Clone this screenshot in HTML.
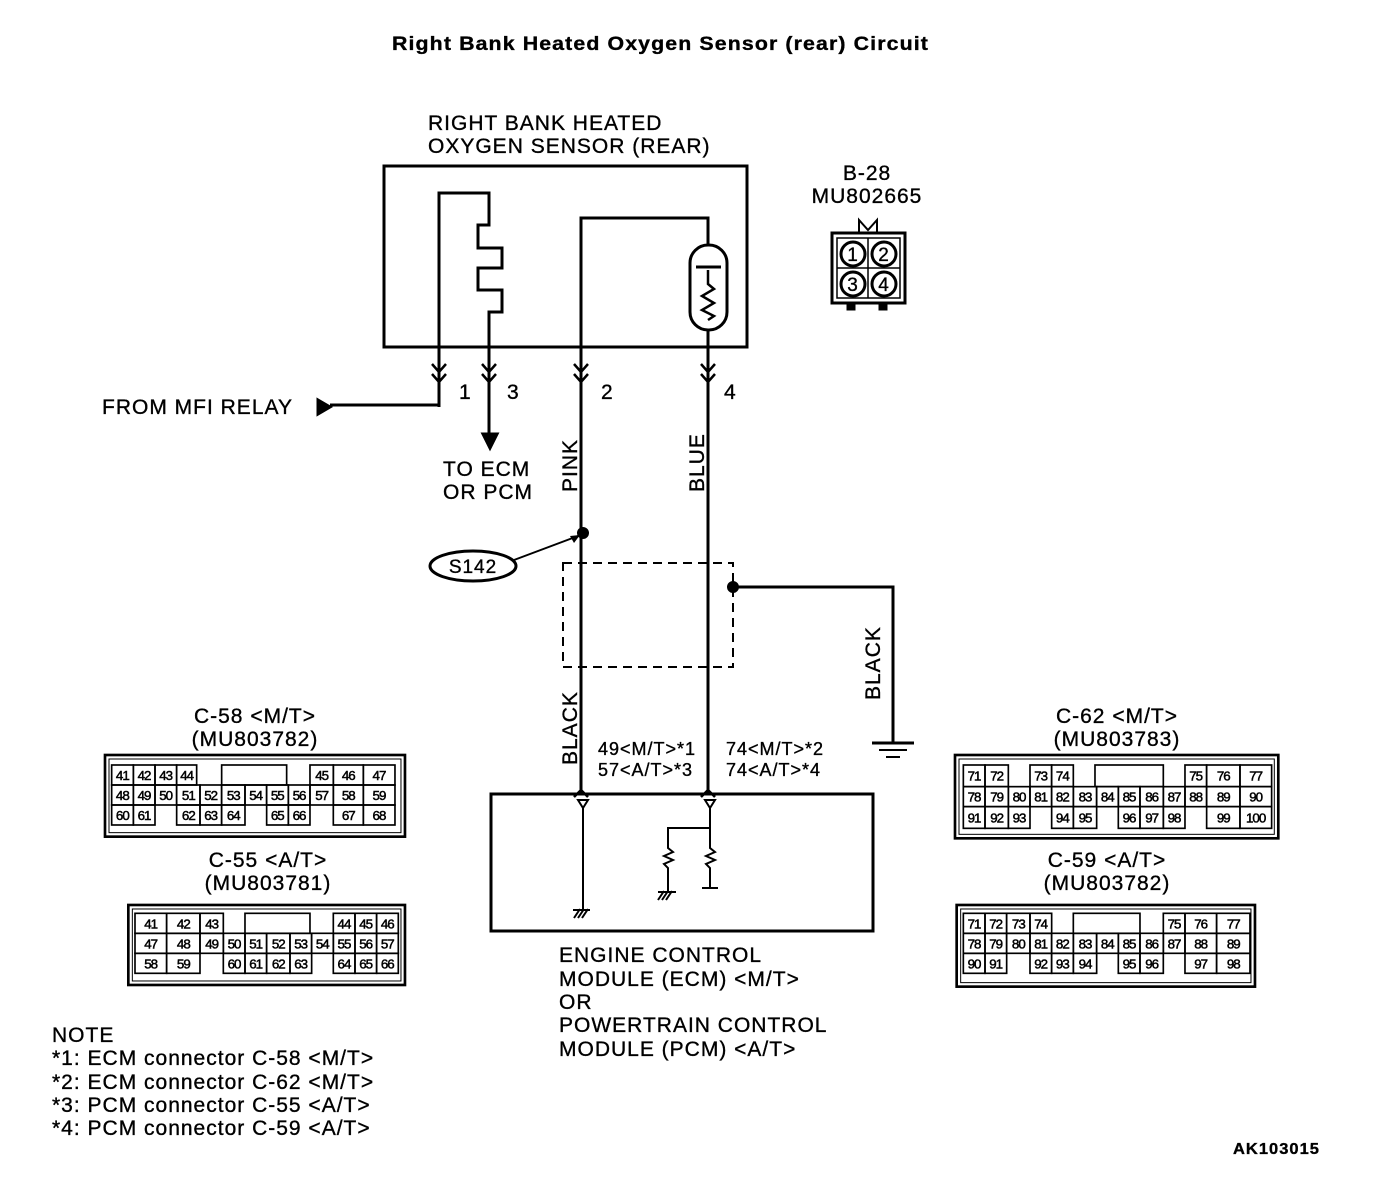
<!DOCTYPE html>
<html><head><meta charset="utf-8"><style>
html,body{margin:0;padding:0;background:#fff}
svg{display:block}
text{font-family:"Liberation Sans",Arial,sans-serif;fill:#000;letter-spacing:1px;stroke:#000;stroke-width:0.35}
.l{font-size:21px}
.c text{font-size:40px;text-anchor:middle;letter-spacing:-3px;stroke-width:1.5}
.c rect{fill:none;stroke:#000;stroke-width:5}
</style></head><body>
<svg width="1376" height="1194" viewBox="0 0 1376 1194" xmlns="http://www.w3.org/2000/svg">
<g fill="none" stroke="#000" stroke-width="3">
<text x="392" y="50" font-size="19" font-weight="bold" textLength="537" lengthAdjust="spacingAndGlyphs" stroke="none">Right Bank Heated Oxygen Sensor (rear) Circuit</text>
<text x="428" y="130" class="l" stroke="none">RIGHT BANK HEATED</text>
<text x="428" y="153" class="l" stroke="none">OXYGEN SENSOR (REAR)</text>
<rect x="384" y="166" width="363" height="181"/>
<polyline points="439,407 439,193 489,193 489,225 478,225 478,248 502,248 502,268 478,268 478,290 502,290 502,312 489,312 489,440"/>
<polyline points="439,405 330,405"/>
<polygon points="318,400 330,407 318,414" fill="#000"/>
<polygon points="483,434 497,434 490,448" fill="#000"/>
<polyline points="708,245 708,218 581,218 581,795"/>
<line x1="708" y1="330" x2="708" y2="795"/>
<rect x="690" y="245" width="37" height="85" rx="18"/>
<line x1="696" y1="267" x2="721" y2="267"/>
<polyline points="708,270 708,284 714,289 702,296 714,303 702,310 714,316 708,320" stroke-width="2.5"/>
<g stroke-width="2.5">
<polyline points="432,364 439,372 446,364"/><polyline points="432,374 439,382 446,374"/>
<polyline points="482,364 489,372 496,364"/><polyline points="482,374 489,382 496,374"/>
<polyline points="574,364 581,372 588,364"/><polyline points="574,374 581,382 588,374"/>
<polyline points="701,364 708,372 715,364"/><polyline points="701,374 708,382 715,374"/>
<polyline points="574,797 581,790 588,797"/><polyline points="701,797 708,790 715,797"/>
</g>
<text x="459" y="399" class="l" font-size="18" stroke="none">1</text>
<text x="507" y="399" class="l" font-size="18" stroke="none">3</text>
<text x="601" y="399" class="l" font-size="18" stroke="none">2</text>
<text x="724" y="399" class="l" font-size="18" stroke="none">4</text>
<text x="102" y="414" class="l" stroke="none">FROM MFI RELAY</text>
<text x="443" y="476" class="l" stroke="none">TO ECM</text>
<text x="443" y="499" class="l" stroke="none">OR PCM</text>
<text transform="translate(577,492) rotate(-90)" class="l" stroke="none">PINK</text>
<text transform="translate(704,492) rotate(-90)" class="l" stroke="none">BLUE</text>
<text transform="translate(577,765) rotate(-90)" class="l" stroke="none">BLACK</text>
<text transform="translate(880,700) rotate(-90)" class="l" stroke="none">BLACK</text>
<circle cx="583" cy="533" r="4.5" fill="#000"/>
<line x1="514" y1="560" x2="578" y2="536" stroke-width="2"/>
<polygon points="580,535 570,536 574,543" fill="#000" stroke="none"/>
<ellipse cx="473" cy="566" rx="43" ry="15"/>
<text x="473" y="573" text-anchor="middle" font-size="19" stroke="none">S142</text>
<rect x="563" y="563" width="170" height="104" stroke-dasharray="9,6" stroke-width="2"/>
<circle cx="733" cy="587" r="4.5" fill="#000"/>
<polyline points="733,587 893,587 893,742"/>
<line x1="872" y1="743" x2="914" y2="743"/><line x1="879" y1="750" x2="907" y2="750" stroke-width="2"/><line x1="886" y1="757" x2="900" y2="757" stroke-width="2"/>
<text x="598" y="755" font-size="18" stroke="none">49&lt;M/T&gt;*1</text>
<text x="598" y="776" font-size="18" stroke="none">57&lt;A/T&gt;*3</text>
<text x="726" y="755" font-size="18" stroke="none">74&lt;M/T&gt;*2</text>
<text x="726" y="776" font-size="18" stroke="none">74&lt;A/T&gt;*4</text>
<rect x="491" y="794" width="382" height="137"/>
<polygon points="578,800 588,800 583,808" stroke-width="2"/>
<polygon points="705,800 715,800 710,808" stroke-width="2"/>
<line x1="583" y1="808" x2="583" y2="910" stroke-width="2"/>
<g stroke-width="2"><line x1="574" y1="918" x2="580" y2="909"/><line x1="578" y1="918" x2="584" y2="909"/><line x1="582" y1="918" x2="588" y2="909"/><line x1="573" y1="910" x2="590" y2="910"/></g>
<polyline points="710,808 710,828 668,828 668,848 673,852 664,856 673,860 664,864 668,868 668,892" stroke-width="2"/>
<polyline points="710,828 710,848 715,852 706,856 715,860 706,864 710,868 710,888" stroke-width="2"/>
<line x1="702" y1="888" x2="718" y2="888" stroke-width="2"/>
<g stroke-width="2"><line x1="658" y1="900" x2="664" y2="891"/><line x1="662" y1="900" x2="668" y2="891"/><line x1="666" y1="900" x2="672" y2="891"/><line x1="658" y1="892" x2="676" y2="892"/></g>
<text x="559" y="962" class="l" stroke="none">ENGINE CONTROL</text>
<text x="559" y="986" class="l" stroke="none">MODULE (ECM) &lt;M/T&gt;</text>
<text x="559" y="1009" class="l" stroke="none">OR</text>
<text x="559" y="1032" class="l" stroke="none">POWERTRAIN CONTROL</text>
<text x="559" y="1056" class="l" stroke="none">MODULE (PCM) &lt;A/T&gt;</text>
<text x="867" y="180" class="l" text-anchor="middle" stroke="none">B-28</text>
<text x="867" y="203" class="l" text-anchor="middle" stroke="none">MU802665</text>
<polyline points="859,232 859,220 868,230 877,220 877,232" stroke-width="2"/>
<rect x="832" y="233" width="73" height="70" stroke-width="3"/>
<rect x="837" y="238" width="63" height="60" stroke-width="1.5"/>
<line x1="868" y1="238" x2="868" y2="298" stroke-width="1.5"/><line x1="837" y1="268" x2="900" y2="268" stroke-width="1.5"/>
<circle cx="853" cy="254" r="12"/><circle cx="884" cy="254" r="12"/><circle cx="853" cy="284" r="12"/><circle cx="884" cy="284" r="12"/>
<text x="853" y="261" font-size="19" text-anchor="middle" stroke="none">1</text>
<text x="884" y="261" font-size="19" text-anchor="middle" stroke="none">2</text>
<text x="853" y="291" font-size="19" text-anchor="middle" stroke="none">3</text>
<text x="884" y="291" font-size="19" text-anchor="middle" stroke="none">4</text>
<rect x="848" y="303" width="6" height="6" fill="#000"/><rect x="880" y="303" width="6" height="6" fill="#000"/>
<text x="255" y="723" class="l" text-anchor="middle" stroke="none">C-58 &lt;M/T&gt;</text>
<text x="255" y="746" class="l" text-anchor="middle" stroke="none">(MU803782)</text>
<text x="268" y="867" class="l" text-anchor="middle" stroke="none">C-55 &lt;A/T&gt;</text>
<text x="268" y="890" class="l" text-anchor="middle" stroke="none">(MU803781)</text>
<text x="1117" y="723" class="l" text-anchor="middle" stroke="none">C-62 &lt;M/T&gt;</text>
<text x="1117" y="746" class="l" text-anchor="middle" stroke="none">(MU803783)</text>
<text x="1107" y="867" class="l" text-anchor="middle" stroke="none">C-59 &lt;A/T&gt;</text>
<text x="1107" y="890" class="l" text-anchor="middle" stroke="none">(MU803782)</text>
<text x="52" y="1042" class="l" stroke="none">NOTE</text>
<text x="52" y="1065" class="l" stroke="none">*1: ECM connector C-58 &lt;M/T&gt;</text>
<text x="52" y="1089" class="l" stroke="none">*2: ECM connector C-62 &lt;M/T&gt;</text>
<text x="52" y="1112" class="l" stroke="none">*3: PCM connector C-55 &lt;A/T&gt;</text>
<text x="52" y="1135" class="l" stroke="none">*4: PCM connector C-59 &lt;A/T&gt;</text>
<text x="1233" y="1154" font-size="16" font-weight="bold" textLength="87" lengthAdjust="spacingAndGlyphs" stroke="none">AK103015</text>
</g>

<g class="c" transform="translate(100,750) scale(0.3333)">
<rect x="15" y="15" width="900" height="245" style="stroke-width:8"/><rect x="27" y="27" width="876" height="221" style="stroke-width:3"/>
<rect x="35" y="45" width="65" height="60"/><text x="67" y="90">41</text>
<rect x="100" y="45" width="65" height="60"/><text x="132" y="90">42</text>
<rect x="165" y="45" width="65" height="60"/><text x="197" y="90">43</text>
<rect x="230" y="45" width="60" height="60"/><text x="260" y="90">44</text>
<rect x="365" y="45" width="195" height="60"/>
<rect x="630" y="45" width="70" height="60"/><text x="665" y="90">45</text>
<rect x="700" y="45" width="90" height="60"/><text x="745" y="90">46</text>
<rect x="790" y="45" width="95" height="60"/><text x="837" y="90">47</text>
<rect x="35" y="105" width="65" height="60"/><text x="67" y="150">48</text>
<rect x="100" y="105" width="65" height="60"/><text x="132" y="150">49</text>
<rect x="165" y="105" width="65" height="60"/><text x="197" y="150">50</text>
<rect x="230" y="105" width="70" height="60"/><text x="265" y="150">51</text>
<rect x="300" y="105" width="65" height="60"/><text x="332" y="150">52</text>
<rect x="365" y="105" width="70" height="60"/><text x="400" y="150">53</text>
<rect x="435" y="105" width="65" height="60"/><text x="467" y="150">54</text>
<rect x="500" y="105" width="65" height="60"/><text x="532" y="150">55</text>
<rect x="565" y="105" width="65" height="60"/><text x="597" y="150">56</text>
<rect x="630" y="105" width="70" height="60"/><text x="665" y="150">57</text>
<rect x="700" y="105" width="90" height="60"/><text x="745" y="150">58</text>
<rect x="790" y="105" width="95" height="60"/><text x="837" y="150">59</text>
<rect x="35" y="165" width="65" height="60"/><text x="67" y="210">60</text>
<rect x="100" y="165" width="65" height="60"/><text x="132" y="210">61</text>
<rect x="230" y="165" width="70" height="60"/><text x="265" y="210">62</text>
<rect x="300" y="165" width="65" height="60"/><text x="332" y="210">63</text>
<rect x="365" y="165" width="70" height="60"/><text x="400" y="210">64</text>
<rect x="500" y="165" width="65" height="60"/><text x="532" y="210">65</text>
<rect x="565" y="165" width="65" height="60"/><text x="597" y="210">66</text>
<rect x="700" y="165" width="90" height="60"/><text x="745" y="210">67</text>
<rect x="790" y="165" width="95" height="60"/><text x="837" y="210">68</text>

<rect x="85" y="465" width="830" height="240" style="stroke-width:8"/><rect x="97" y="477" width="806" height="216" style="stroke-width:3"/>
<rect x="105" y="490" width="95" height="60"/><text x="152" y="535">41</text>
<rect x="200" y="490" width="100" height="60"/><text x="250" y="535">42</text>
<rect x="300" y="490" width="70" height="60"/><text x="335" y="535">43</text>
<rect x="435" y="490" width="195" height="60"/>
<rect x="700" y="490" width="65" height="60"/><text x="732" y="535">44</text>
<rect x="765" y="490" width="65" height="60"/><text x="797" y="535">45</text>
<rect x="830" y="490" width="65" height="60"/><text x="862" y="535">46</text>
<rect x="105" y="550" width="95" height="60"/><text x="152" y="595">47</text>
<rect x="200" y="550" width="100" height="60"/><text x="250" y="595">48</text>
<rect x="300" y="550" width="70" height="60"/><text x="335" y="595">49</text>
<rect x="370" y="550" width="65" height="60"/><text x="402" y="595">50</text>
<rect x="435" y="550" width="65" height="60"/><text x="467" y="595">51</text>
<rect x="500" y="550" width="70" height="60"/><text x="535" y="595">52</text>
<rect x="570" y="550" width="65" height="60"/><text x="602" y="595">53</text>
<rect x="635" y="550" width="65" height="60"/><text x="667" y="595">54</text>
<rect x="700" y="550" width="65" height="60"/><text x="732" y="595">55</text>
<rect x="765" y="550" width="65" height="60"/><text x="797" y="595">56</text>
<rect x="830" y="550" width="65" height="60"/><text x="862" y="595">57</text>
<rect x="105" y="610" width="95" height="60"/><text x="152" y="655">58</text>
<rect x="200" y="610" width="100" height="60"/><text x="250" y="655">59</text>
<rect x="370" y="610" width="65" height="60"/><text x="402" y="655">60</text>
<rect x="435" y="610" width="65" height="60"/><text x="467" y="655">61</text>
<rect x="500" y="610" width="70" height="60"/><text x="535" y="655">62</text>
<rect x="570" y="610" width="65" height="60"/><text x="602" y="655">63</text>
<rect x="700" y="610" width="65" height="60"/><text x="732" y="655">64</text>
<rect x="765" y="610" width="65" height="60"/><text x="797" y="655">65</text>
<rect x="830" y="610" width="65" height="60"/><text x="862" y="655">66</text>
</g>

<g class="c" transform="translate(950,750) scale(0.3333)">
<rect x="15" y="15" width="970" height="250" style="stroke-width:8"/><rect x="27" y="27" width="946" height="226" style="stroke-width:3"/>
<rect x="40" y="45" width="65" height="65"/><text x="72" y="92">71</text>
<rect x="105" y="45" width="70" height="65"/><text x="140" y="92">72</text>
<rect x="240" y="45" width="65" height="65"/><text x="272" y="92">73</text>
<rect x="305" y="45" width="65" height="65"/><text x="337" y="92">74</text>
<rect x="435" y="45" width="205" height="65"/>
<rect x="705" y="45" width="65" height="65"/><text x="737" y="92">75</text>
<rect x="770" y="45" width="100" height="65"/><text x="820" y="92">76</text>
<rect x="870" y="45" width="95" height="65"/><text x="917" y="92">77</text>
<rect x="40" y="110" width="65" height="60"/><text x="72" y="155">78</text>
<rect x="105" y="110" width="70" height="60"/><text x="140" y="155">79</text>
<rect x="175" y="110" width="65" height="60"/><text x="207" y="155">80</text>
<rect x="240" y="110" width="65" height="60"/><text x="272" y="155">81</text>
<rect x="305" y="110" width="65" height="60"/><text x="337" y="155">82</text>
<rect x="370" y="110" width="70" height="60"/><text x="405" y="155">83</text>
<rect x="440" y="110" width="65" height="60"/><text x="472" y="155">84</text>
<rect x="505" y="110" width="65" height="60"/><text x="537" y="155">85</text>
<rect x="570" y="110" width="70" height="60"/><text x="605" y="155">86</text>
<rect x="640" y="110" width="65" height="60"/><text x="672" y="155">87</text>
<rect x="705" y="110" width="65" height="60"/><text x="737" y="155">88</text>
<rect x="770" y="110" width="100" height="60"/><text x="820" y="155">89</text>
<rect x="870" y="110" width="95" height="60"/><text x="917" y="155">90</text>
<rect x="40" y="170" width="65" height="65"/><text x="72" y="217">91</text>
<rect x="105" y="170" width="70" height="65"/><text x="140" y="217">92</text>
<rect x="175" y="170" width="65" height="65"/><text x="207" y="217">93</text>
<rect x="305" y="170" width="65" height="65"/><text x="337" y="217">94</text>
<rect x="370" y="170" width="70" height="65"/><text x="405" y="217">95</text>
<rect x="505" y="170" width="65" height="65"/><text x="537" y="217">96</text>
<rect x="570" y="170" width="70" height="65"/><text x="605" y="217">97</text>
<rect x="640" y="170" width="65" height="65"/><text x="672" y="217">98</text>
<rect x="770" y="170" width="100" height="65"/><text x="820" y="217">99</text>
<rect x="870" y="170" width="95" height="65"/><text x="917" y="217">100</text>

<rect x="20" y="465" width="895" height="245" style="stroke-width:8"/><rect x="32" y="477" width="871" height="221" style="stroke-width:3"/>
<rect x="40" y="490" width="65" height="60"/><text x="72" y="535">71</text>
<rect x="105" y="490" width="65" height="60"/><text x="137" y="535">72</text>
<rect x="170" y="490" width="70" height="60"/><text x="205" y="535">73</text>
<rect x="240" y="490" width="65" height="60"/><text x="272" y="535">74</text>
<rect x="370" y="490" width="200" height="60"/>
<rect x="640" y="490" width="65" height="60"/><text x="672" y="535">75</text>
<rect x="705" y="490" width="95" height="60"/><text x="752" y="535">76</text>
<rect x="800" y="490" width="100" height="60"/><text x="850" y="535">77</text>
<rect x="40" y="550" width="65" height="60"/><text x="72" y="595">78</text>
<rect x="105" y="550" width="65" height="60"/><text x="137" y="595">79</text>
<rect x="170" y="550" width="70" height="60"/><text x="205" y="595">80</text>
<rect x="240" y="550" width="65" height="60"/><text x="272" y="595">81</text>
<rect x="305" y="550" width="65" height="60"/><text x="337" y="595">82</text>
<rect x="370" y="550" width="70" height="60"/><text x="405" y="595">83</text>
<rect x="440" y="550" width="65" height="60"/><text x="472" y="595">84</text>
<rect x="505" y="550" width="65" height="60"/><text x="537" y="595">85</text>
<rect x="570" y="550" width="70" height="60"/><text x="605" y="595">86</text>
<rect x="640" y="550" width="65" height="60"/><text x="672" y="595">87</text>
<rect x="705" y="550" width="95" height="60"/><text x="752" y="595">88</text>
<rect x="800" y="550" width="100" height="60"/><text x="850" y="595">89</text>
<rect x="40" y="610" width="65" height="60"/><text x="72" y="655">90</text>
<rect x="105" y="610" width="65" height="60"/><text x="137" y="655">91</text>
<rect x="240" y="610" width="65" height="60"/><text x="272" y="655">92</text>
<rect x="305" y="610" width="65" height="60"/><text x="337" y="655">93</text>
<rect x="370" y="610" width="70" height="60"/><text x="405" y="655">94</text>
<rect x="505" y="610" width="65" height="60"/><text x="537" y="655">95</text>
<rect x="570" y="610" width="70" height="60"/><text x="605" y="655">96</text>
<rect x="705" y="610" width="95" height="60"/><text x="752" y="655">97</text>
<rect x="800" y="610" width="100" height="60"/><text x="850" y="655">98</text>
</g>
</svg>
</body></html>
